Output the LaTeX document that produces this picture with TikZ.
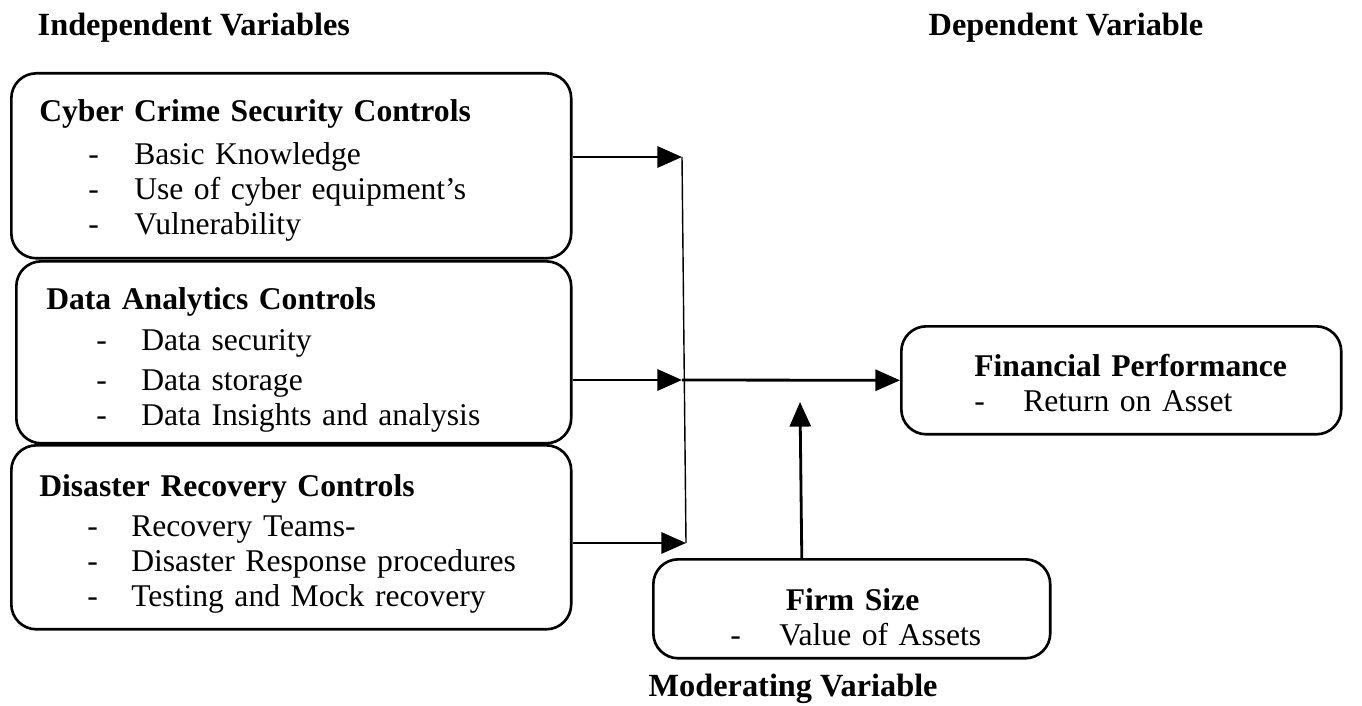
\documentclass[tikz,border=0pt]{standalone}
\usepackage{fontspec}
\setmainfont{Liberation Serif}
\usetikzlibrary{shapes,arrows,arrows.meta,positioning}
\newcommand{\itm}[3]{\hspace*{#1}\makebox[#2][l]{-}#3}
\newcommand{\ttl}[2]{\rule{0pt}{#1}\textbf{#2}}

\begin{document}
\begin{tikzpicture}[x=0.02cm, y=-0.02cm, thick, font=\fontsize{18}{20}\selectfont]
\tikzstyle{varbox} = [rectangle, draw, line width=1.5pt, rounded corners=0.5cm, align=left, inner ysep=0pt, anchor=north west]
\tikzstyle{head} = [font=\fontsize{18.4}{20}\selectfont\bfseries, anchor=west, inner sep=0pt]
\tikzstyle{arrow} = [line width=1.6pt, -{Triangle[length=14pt,width=12pt]}]
\tikzstyle{link} = [line width=0.8pt]

\useasboundingbox (0,0) rectangle (1362,706);

\node [head] (indep) at (37,28) {Independent Variables};
\node [head] (dep) at (928,28) {Dependent Variable};
\node [head] (modv) at (648,689) {Moderating Variable};

\node [varbox, inner xsep=0.56cm, minimum width=11.2cm, minimum height=3.7cm, text width=10.08cm] (cyber) at (10,72)
  {\ttl{0.63cm}{Cyber Crime Security Controls}\\[0.16cm]
   \itm{0.98cm}{0.92cm}{Basic Knowledge}\\
   \itm{0.98cm}{0.92cm}{Use of cyber equipment’s}\\
   \itm{0.98cm}{0.92cm}{Vulnerability}};
\node [varbox, inner xsep=0.6cm, minimum width=11.1cm, minimum height=3.64cm, text width=9.9cm] (data) at (15,260)
  {\ttl{0.75cm}{Data Analytics Controls}\\[0.1cm]
   \itm{1cm}{0.9cm}{Data security}\\[0.1cm]
   \itm{1cm}{0.9cm}{Data storage}\\
   \itm{1cm}{0.9cm}{Data Insights and analysis}};
\node [varbox, inner xsep=0.56cm, minimum width=11.2cm, minimum height=3.68cm, text width=10.08cm] (dis) at (10,444)
  {\ttl{0.71cm}{Disaster Recovery Controls}\\[0.1cm]
   \itm{0.96cm}{0.88cm}{Recovery Teams-}\\
   \itm{0.96cm}{0.88cm}{Disaster Response procedures}\\
   \itm{0.96cm}{0.88cm}{Testing and Mock recovery}};
\node [varbox, inner xsep=0.5cm, minimum width=8.8cm, minimum height=2.16cm, text width=7.8cm] (fin) at (900,325)
  {\hspace*{0.96cm}\ttl{0.57cm}{Financial Performance}\\
   \itm{0.96cm}{0.98cm}{Return on Asset}};
\node [varbox, inner xsep=0.5cm, minimum width=7.94cm, minimum height=1.98cm, text width=6.94cm] (firm) at (652,558)
  {\hspace*{2.15cm}\ttl{0.77cm}{Firm Size}\\
   \itm{1.04cm}{0.98cm}{Value of Assets}};

\coordinate (top) at (682,157);
\coordinate (mid) at (682,380);
\coordinate (bot) at (686,543);
\coordinate (mod) at (800,402);

\draw [arrow] (cyber.east |- top) -- (top);
\draw [arrow] (data.east |- mid) -- (mid);
\draw [arrow] (dis.east |- bot) -- (bot);
\draw [link] (top) -- (bot);
\draw [arrow] (mid) -- (fin.west);
\draw [arrow] ([xshift=-1cm]firm.north) -- (mod);
\end{tikzpicture}
\end{document}
